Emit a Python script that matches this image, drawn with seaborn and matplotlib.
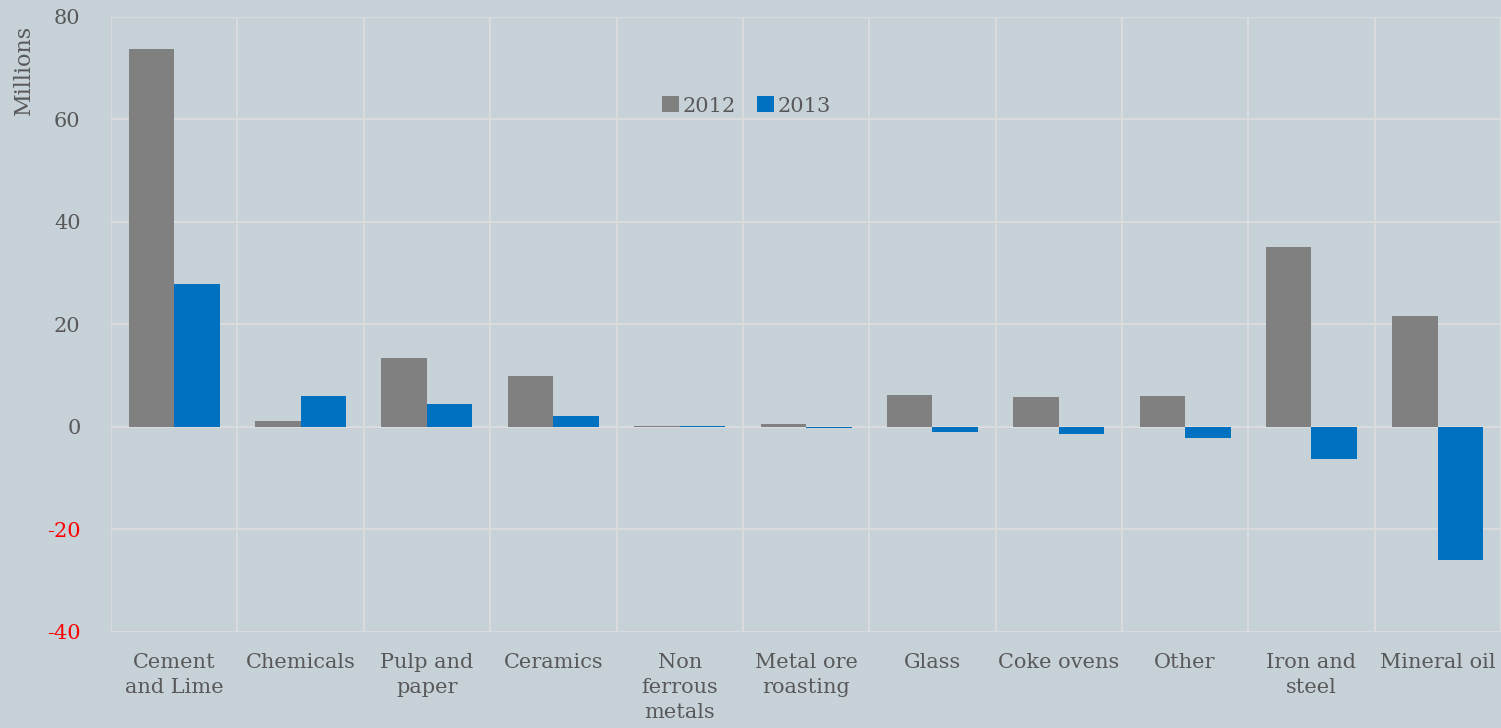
import pandas as pd
import numpy as np
import matplotlib
matplotlib.use('Agg')
import matplotlib.pyplot as plt
import seaborn as sns
from matplotlib.ticker import MultipleLocator

# --- data ---
SECTORS = ['Cement\nand Lime', 'Chemicals', 'Pulp and\npaper', 'Ceramics', 'Non\nferrous\nmetals',
           'Metal ore\nroasting', 'Glass', 'Coke ovens', 'Other', 'Iron and\nsteel', 'Mineral oil']
VALS_2012 = [73.8, 1.2, 13.5, 10.0, 0.2, 0.5, 6.2, 5.9, 6.0, 35.1, 21.7]
VALS_2013 = [27.9, 6.0, 4.5, 2.1, 0.1, -0.3, -1.0, -1.4, -2.1, -6.2, -26.0]
YEARS = ['2012', '2013']

BG = '#C6D1D8'
GRID = '#DDDDDD'
TXT = '#595959'

df = pd.DataFrame({
    'sector': SECTORS * 2,
    'value': VALS_2012 + VALS_2013,
    'year': [YEARS[0]] * len(SECTORS) + [YEARS[1]] * len(SECTORS),
})

sns.set_theme(style='white')
plt.rcParams['font.family'] = ['DejaVu Serif']
plt.rcParams['axes.unicode_minus'] = False

fig = plt.figure(figsize=(15.01, 7.28), dpi=100, facecolor=BG)
ax = fig.add_axes([0.074, 0.132, 0.926, 0.845], facecolor=BG)

sns.barplot(data=df, x='sector', y='value', hue='year', palette=['#808080', '#0070C0'],
            width=0.72, saturation=1, linewidth=0, ax=ax, zorder=3)

ax.set_xlim(-0.5, len(SECTORS) - 0.5)
ax.set_ylim(-40, 80)
ax.yaxis.set_major_locator(MultipleLocator(20))
ax.set_xticks(np.arange(len(SECTORS) + 1) - 0.5, minor=True)
ax.grid(False)
ax.grid(True, axis='y', which='major', color=GRID, lw=1.3, zorder=0)
ax.grid(True, axis='x', which='minor', color=GRID, lw=1.3, zorder=0)
for s in ax.spines.values():
    s.set_visible(False)

ax.tick_params(axis='both', which='both', length=0)
ax.tick_params(axis='y', pad=22, labelsize=15, labelcolor=TXT)
ax.tick_params(axis='x', pad=15, labelsize=15, labelcolor=TXT)
for lbl in ax.get_xticklabels():
    lbl.set_linespacing(1.4)
for lbl in ax.get_yticklabels():
    lbl.set_color('red' if float(lbl.get_text()) < 0 else TXT)
ax.set_xlabel('')
ax.set_ylabel('Millions', fontsize=16, color=TXT)
ax.yaxis.set_label_coords(-0.055, 0.914)

leg = ax.legend(loc='center left', bbox_to_anchor=(0.383, 0.855), ncol=2, frameon=False,
                fontsize=15, handlelength=0.8, handleheight=0.8, handletextpad=0.2,
                columnspacing=1.0, labelcolor=TXT)

fig.savefig('out.png', dpi=100, facecolor=BG)
